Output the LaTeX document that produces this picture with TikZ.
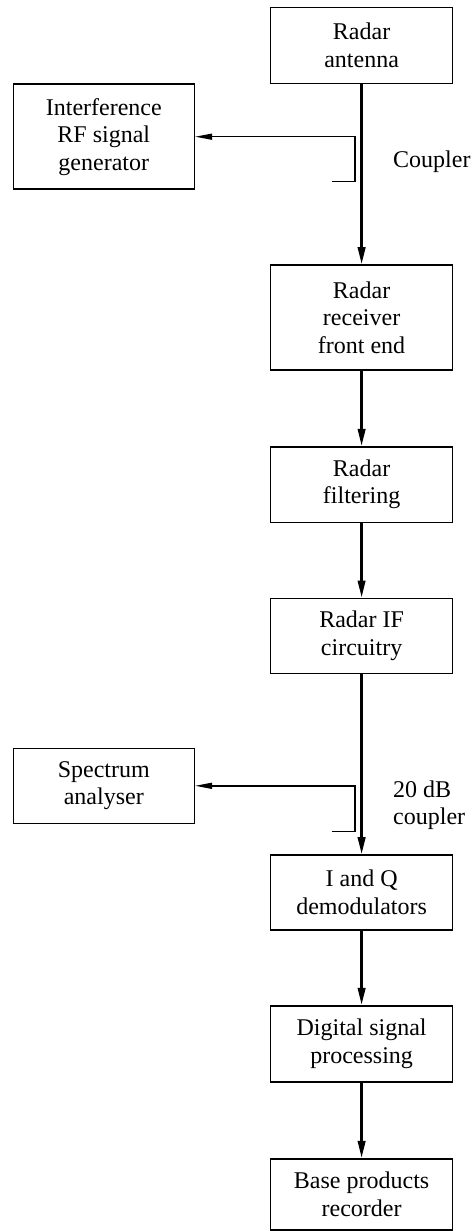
\documentclass[tikz,border=0pt]{standalone}
\usepackage{fontspec}
\setmainfont{Liberation Serif}
\usetikzlibrary{arrows.meta}
\begin{document}
\begin{tikzpicture}[x=1pt,y=-1pt,
  txt/.style={font=\fontsize{24}{27.5}\selectfont},
  block/.style={txt, draw, line width=1.6pt, inner sep=0pt, align=center,
    minimum width=182pt},
  side/.style={block, minimum width=181pt},
  flow/.style={line width=2.4pt, -{Triangle[length=17pt,width=7.5pt]}},
  tapflow/.style={line width=1.4pt, -{Triangle[length=17pt,width=6pt]}},
  lbl/.style={txt, align=left, anchor=west, inner sep=0pt}]
\useasboundingbox (0,0) rectangle (473,1231);

% main receive chain
\node[block, minimum height=75.6pt] (ant)  at (361.6,45.5)   {Radar\\antenna};
\node[block, minimum height=105pt]  (rx)   at (361.6,317.5)  {Radar\\receiver\\front end};
\node[block, minimum height=75.6pt] (filt) at (361.6,484.5)  {Radar\\filtering};
\node[block, minimum height=75pt]   (ifc)  at (361.6,635.8)  {Radar IF\\circuitry};
\node[block, minimum height=75pt]   (iq)   at (361.6,892.5)  {I and Q\\demodulators};
\node[block, minimum height=76pt]   (dsp)  at (361.6,1043.7) {Digital signal\\processing};
\node[block, minimum height=71pt]   (base) at (361.6,1194.2) {Base products\\recorder};

% instruments on the coupled ports
\node[side, minimum height=105pt] (gen)  at (103.8,136.7) {Interference\\RF signal\\generator};
\node[side, minimum height=75pt]  (spec) at (103.8,785.8) {Spectrum\\analyser};

\draw[flow] (ant) -- (rx);
\draw[flow] (rx) -- (filt);
\draw[flow] (filt) -- (ifc);
\draw[flow] (ifc) -- (iq);
\draw[flow] (iq) -- (dsp);
\draw[flow] (dsp) -- (base);

% coupler stubs
\coordinate (c1end) at (331.7,181.7);
\coordinate (c1bot) at (355,181.7);
\draw[tapflow] (c1end) -- (c1bot) -- (c1bot |- gen.east) -- (gen.east);
\node[lbl] (cpl1) at (393,162) {Coupler};

\coordinate (c2end) at (331.7,831.7);
\coordinate (c2bot) at (355,831.7);
\draw[tapflow] (c2end) -- (c2bot) -- (c2bot |- spec.east) -- (spec.east);
\node[lbl] (cpl2) at (393,805) {20 dB\\coupler};
\end{tikzpicture}
\end{document}
